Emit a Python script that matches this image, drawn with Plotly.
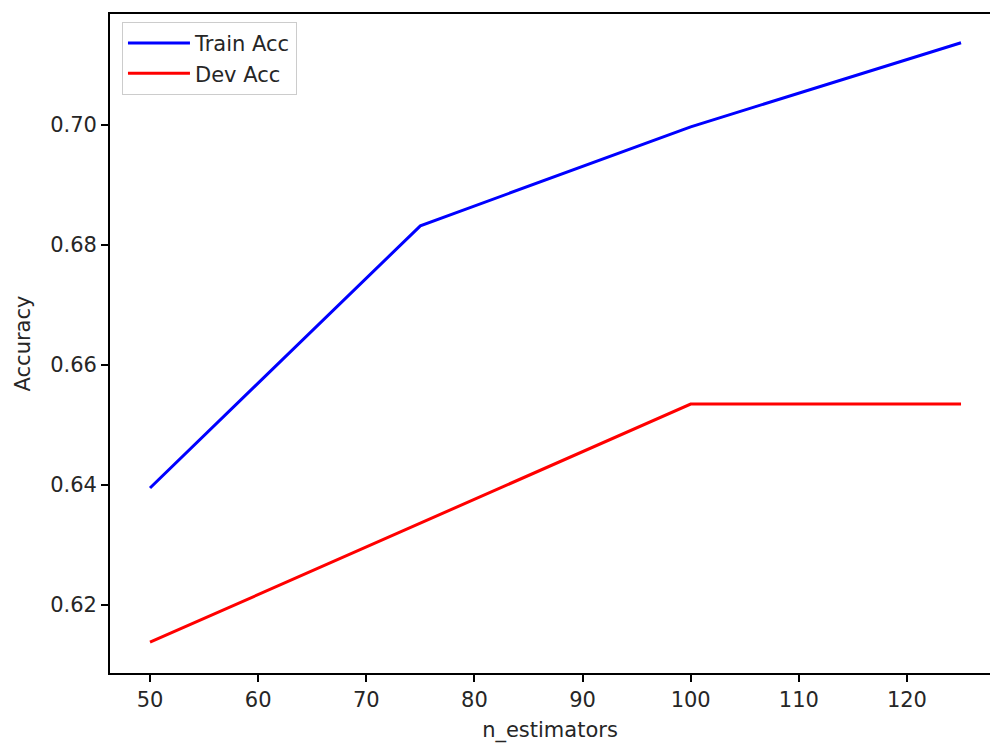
import plotly.graph_objects as go

n_estimators = [50, 75, 100, 125]
train_acc = [0.6395, 0.6832, 0.6997, 0.7137]
dev_acc = [0.6138, 0.6337, 0.6535, 0.6535]
x_ticks = [50, 60, 70, 80, 90, 100, 110, 120]
y_ticks = [0.62, 0.64, 0.66, 0.68, 0.70]

FONT = "DejaVu Sans"
FS = 21

fig = go.Figure()
fig.add_trace(go.Scatter(x=n_estimators, y=train_acc, mode="lines", name="Train Acc",
                         line=dict(color="#0000ff", width=3)))
fig.add_trace(go.Scatter(x=n_estimators, y=dev_acc, mode="lines", name="Dev Acc",
                         line=dict(color="#ff0000", width=3)))

axis_common = dict(showgrid=False, zeroline=False, showline=True, linecolor="black",
                   linewidth=1.7, ticks="outside", ticklen=7, tickwidth=1.7,
                   tickcolor="black", tickfont=dict(family=FONT, size=FS, color="#262626"))

fig.update_xaxes(range=[46.3, 127.68], tickvals=x_ticks, mirror=True,
                 title=dict(text="n_estimators", font=dict(family=FONT, size=FS, color="#262626"), standoff=11),
                 **axis_common)
fig.update_yaxes(range=[0.60867, 0.7185], tickvals=y_ticks, tickformat=".2f",
                 title=dict(text="Accuracy", font=dict(family=FONT, size=FS, color="#262626"), standoff=14),
                 **axis_common)

fig.update_layout(
    width=990, height=744,
    margin=dict(l=110, r=0, t=14, b=71, autoexpand=False),
    plot_bgcolor="white", paper_bgcolor="white",
    font=dict(family=FONT, size=FS, color="#262626"),
    legend=dict(x=0.0136, y=0.988, xanchor="left", yanchor="top",
                bgcolor="rgba(255,255,255,0.8)", bordercolor="#cccccc", borderwidth=1,
                font=dict(family=FONT, size=FS), itemwidth=62, tracegroupgap=0),
    showlegend=True,
)

fig.write_html("out.html", config={"displayModeBar": False},
               post_script="document.body.style.margin='0';document.body.style.overflow='hidden';")
